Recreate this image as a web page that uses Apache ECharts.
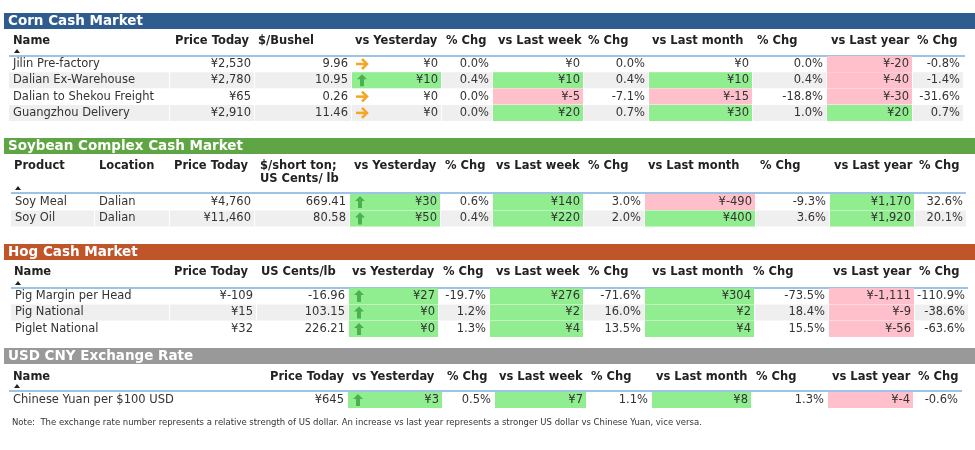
<!DOCTYPE html>
<html lang="en">
<head>
<meta charset="utf-8"/>
<title>China Cash Markets</title>
<script src="https://cdn.jsdelivr.net/npm/echarts@6/dist/echarts.min.js"></script>
<style>html,body{margin:0;padding:0;background:#fff}#main{width:975px;height:450px}</style>
</head>
<body>
<div id="main"></div>
<script>
// ---- data ----
const cornNames = ['Jilin Pre-factory', 'Dalian Ex-Warehouse', 'Dalian to Shekou Freight', 'Guangzhou Delivery'];
const cornPrice = [2530, 2780, 65, 2910];
const cornUnit = [9.96, 10.95, 0.26, 11.46];
const cornVsY = [0, 10, 0, 0];
const cornPctY = [0.0, 0.4, 0.0, 0.0];
const cornDirY = [0, 1, 0, 0];
const cornVsW = [0, 10, -5, 20];
const cornPctW = [0.0, 0.4, -7.1, 0.7];
const cornVsM = [0, 10, -15, 30];
const cornPctM = [0.0, 0.4, -18.8, 1.0];
const cornVsYr = [-20, -40, -30, 20];
const cornPctYr = [-0.8, -1.4, -31.6, 0.7];

const soyNames = ['Soy Meal', 'Soy Oil'];
const soyLoc = ['Dalian', 'Dalian'];
const soyPrice = [4760, 11460];
const soyUnit = [669.41, 80.58];
const soyVsY = [30, 50];
const soyPctY = [0.6, 0.4];
const soyDirY = [1, 1];
const soyVsW = [140, 220];
const soyPctW = [3.0, 2.0];
const soyVsM = [-490, 400];
const soyPctM = [-9.3, 3.6];
const soyVsYr = [1170, 1920];
const soyPctYr = [32.6, 20.1];

const hogNames = ['Pig Margin per Head', 'Pig National', 'Piglet National'];
const hogPrice = [-109, 15, 32];
const hogUnit = [-16.96, 103.15, 226.21];
const hogVsY = [27, 0, 0];
const hogPctY = [-19.7, 1.2, 1.3];
const hogDirY = [1, 1, 1];
const hogVsW = [276, 2, 4];
const hogPctW = [-71.6, 16.0, 13.5];
const hogVsM = [304, 2, 4];
const hogPctM = [-73.5, 18.4, 15.5];
const hogVsYr = [-1111, -9, -56];
const hogPctYr = [-110.9, -38.6, -63.6];

const fxNames = ['Chinese Yuan per $100 USD'];
const fxPrice = [645];
const fxVsY = [3];
const fxPctY = [0.5];
const fxDirY = [1];
const fxVsW = [7];
const fxPctW = [1.1];
const fxVsM = [8];
const fxPctM = [1.3];
const fxVsYr = [-4];
const fxPctYr = [-0.6];

const noteText = 'Note:  The exchange rate number represents a relative strength of US dollar. An increase vs last year represents a stronger US dollar vs Chinese Yuan, vice versa.';

// ---- helpers ----
const FONT = 'DejaVu Sans, Verdana, sans-serif';
const GREEN = '#90EE90', PINK = '#FFC0CB', STRIPE = '#EFEFEF';
const yuan = v => '\u00a5' + (v < 0 ? '-' : '') + Math.abs(v).toLocaleString('en-US');
const pct = v => v.toFixed(1) + '%';
const num = v => v.toFixed(2);
const els = [];

function txt(x, y, s, opt) {
  opt = opt || {};
  els.push({type: 'text', x: x, y: y, silent: true, style: {
    text: s, fill: opt.fill || '#333', align: opt.align || 'left', verticalAlign: 'middle',
    font: (opt.bold ? 'bold ' : '') + (opt.size || 11.5) + 'px ' + FONT }});
}
function rect(x, y, w, h, fill) {
  els.push({type: 'rect', silent: true, shape: {x: x, y: y, width: w, height: h}, style: {fill: fill}});
}
function upArrow(x, yc, color) {
  els.push({type: 'polygon', silent: true, shape: {points: [
    [x + 5, yc - 6], [x + 10, yc - 1], [x + 7, yc - 1], [x + 7, yc + 6], [x + 3, yc + 6], [x + 3, yc - 1], [x, yc - 1]]},
    style: {fill: color}});
}
function rightArrow(x, yc) {
  els.push({type: 'polyline', silent: true, shape: {points: [[x, yc], [x + 11, yc]]}, style: {stroke: '#F5A623', lineWidth: 2.5}});
  els.push({type: 'polyline', silent: true, shape: {points: [[x + 6, yc - 5], [x + 11, yc], [x + 6, yc + 5]]}, style: {stroke: '#F5A623', lineWidth: 2.5, fill: null}});
}

// section: title bar, header, rows. cols: {l, r, head, align, get, fill, arrow}
function section(sec) {
  rect(4, sec.titleY, 971, 16, sec.color);
  txt(8, sec.titleY + 8.5, sec.title, {bold: true, size: 13.5, fill: '#fff'});
  sec.cols.forEach(c => {
    (Array.isArray(c.head) ? c.head : [c.head]).forEach((h, k) =>
      txt(c.hx, sec.headY + k * 13, h, {bold: true, fill: '#222'}));
  });
  els.push({type: 'polygon', silent: true, shape: {points: [[sec.caretX, sec.lineY - 3], [sec.caretX + 6, sec.lineY - 3], [sec.caretX + 3, sec.lineY - 7]]}, style: {fill: '#222'}});
  rect(sec.x0, sec.lineY - 1, sec.x1 - sec.x0, 2, '#9DC3E6');
  for (let i = 0; i < sec.n; i++) {
    const yc = sec.rowY + i * sec.rowH;
    if (i % 2 === 1) sec.cols.forEach(c => rect(c.l, yc - 8, c.r - c.l - 1, 16, STRIPE));
    sec.cols.forEach(c => {
      const v = c.data ? c.data[i] : null;
      if (c.fillBy) {
        const d = c.fillBy(i);
        if (d !== 0) rect(c.l, yc - 8, c.r - c.l - 1, 16, d > 0 ? GREEN : PINK);
        if (c.arrow) { if (d > 0) upArrow(c.l + 5, yc, '#4CAF50'); else rightArrow(c.l + 4, yc); }
      }
      const s = c.fmt ? c.fmt(v) : v;
      if (c.align === 'right') txt(c.r - 4, yc, s, {align: 'right'});
      else txt(c.l + 4, yc, s);
    });
  }
}

const sign = arr => i => Math.sign(arr[i]);

section({
  title: 'Corn Cash Market', color: '#2F5C8F', titleY: 13, headY: 41, lineY: 56, caretX: 14,
  x0: 9, x1: 965, rowY: 64, rowH: 16.3, n: cornNames.length,
  cols: [
    {l: 9, r: 170, hx: 13, head: 'Name', data: cornNames},
    {l: 170, r: 255, hx: 175, head: 'Price Today', data: cornPrice, fmt: yuan, align: 'right'},
    {l: 255, r: 352, hx: 258, head: '$/Bushel', data: cornUnit, fmt: num, align: 'right'},
    {l: 352, r: 442, hx: 355, head: 'vs Yesterday', data: cornVsY, fmt: yuan, align: 'right', fillBy: i => cornDirY[i], arrow: true},
    {l: 442, r: 493, hx: 446, head: '% Chg', data: cornPctY, fmt: pct, align: 'right'},
    {l: 493, r: 584, hx: 498, head: 'vs Last week', data: cornVsW, fmt: yuan, align: 'right', fillBy: sign(cornVsW)},
    {l: 584, r: 649, hx: 588, head: '% Chg', data: cornPctW, fmt: pct, align: 'right'},
    {l: 649, r: 753, hx: 652, head: 'vs Last month', data: cornVsM, fmt: yuan, align: 'right', fillBy: sign(cornVsM)},
    {l: 753, r: 827, hx: 757, head: '% Chg', data: cornPctM, fmt: pct, align: 'right'},
    {l: 827, r: 913, hx: 831, head: 'vs Last year', data: cornVsYr, fmt: yuan, align: 'right', fillBy: sign(cornVsYr)},
    {l: 913, r: 964, hx: 917, head: '% Chg', data: cornPctYr, fmt: pct, align: 'right'}
  ]
});

section({
  title: 'Soybean Complex Cash Market', color: '#5FA544', titleY: 138, headY: 166, lineY: 193, caretX: 15,
  x0: 11, x1: 966, rowY: 202, rowH: 16.5, n: soyNames.length,
  cols: [
    {l: 11, r: 95, hx: 14, head: 'Product', data: soyNames},
    {l: 95, r: 170, hx: 99, head: 'Location', data: soyLoc},
    {l: 170, r: 255, hx: 174, head: 'Price Today', data: soyPrice, fmt: yuan, align: 'right'},
    {l: 255, r: 350, hx: 260, head: ['$/short ton;', 'US Cents/ lb'], data: soyUnit, fmt: num, align: 'right'},
    {l: 350, r: 441, hx: 354, head: 'vs Yesterday', data: soyVsY, fmt: yuan, align: 'right', fillBy: i => soyDirY[i], arrow: true},
    {l: 441, r: 493, hx: 445, head: '% Chg', data: soyPctY, fmt: pct, align: 'right'},
    {l: 493, r: 584, hx: 496, head: 'vs Last week', data: soyVsW, fmt: yuan, align: 'right', fillBy: sign(soyVsW)},
    {l: 584, r: 645, hx: 588, head: '% Chg', data: soyPctW, fmt: pct, align: 'right'},
    {l: 645, r: 756, hx: 648, head: 'vs Last month', data: soyVsM, fmt: yuan, align: 'right', fillBy: sign(soyVsM)},
    {l: 756, r: 830, hx: 760, head: '% Chg', data: soyPctM, fmt: pct, align: 'right'},
    {l: 830, r: 915, hx: 834, head: 'vs Last year', data: soyVsYr, fmt: yuan, align: 'right', fillBy: sign(soyVsYr)},
    {l: 915, r: 967, hx: 919, head: '% Chg', data: soyPctYr, fmt: pct, align: 'right'}
  ]
});

section({
  title: 'Hog Cash Market', color: '#C0552A', titleY: 244, headY: 272, lineY: 288, caretX: 15,
  x0: 11, x1: 968, rowY: 296, rowH: 16.5, n: hogNames.length,
  cols: [
    {l: 11, r: 170, hx: 14, head: 'Name', data: hogNames},
    {l: 170, r: 257, hx: 174, head: 'Price Today', data: hogPrice, fmt: yuan, align: 'right'},
    {l: 257, r: 349, hx: 261, head: 'US Cents/lb', data: hogUnit, fmt: num, align: 'right'},
    {l: 349, r: 439, hx: 352, head: 'vs Yesterday', data: hogVsY, fmt: yuan, align: 'right', fillBy: i => hogDirY[i], arrow: true},
    {l: 439, r: 490, hx: 443, head: '% Chg', data: hogPctY, fmt: pct, align: 'right'},
    {l: 490, r: 584, hx: 496, head: 'vs Last week', data: hogVsW, fmt: yuan, align: 'right', fillBy: sign(hogVsW)},
    {l: 584, r: 645, hx: 588, head: '% Chg', data: hogPctW, fmt: pct, align: 'right'},
    {l: 645, r: 755, hx: 652, head: 'vs Last month', data: hogVsM, fmt: yuan, align: 'right', fillBy: sign(hogVsM)},
    {l: 755, r: 829, hx: 753, head: '% Chg', data: hogPctM, fmt: pct, align: 'right'},
    {l: 829, r: 915, hx: 833, head: 'vs Last year', data: hogVsYr, fmt: yuan, align: 'right', fillBy: sign(hogVsYr)},
    {l: 915, r: 969, hx: 919, head: '% Chg', data: hogPctYr, fmt: pct, align: 'right'}
  ]
});

section({
  title: 'USD CNY Exchange Rate', color: '#999999', titleY: 348, headY: 377, lineY: 391, caretX: 14,
  x0: 9, x1: 962, rowY: 400, rowH: 16.5, n: fxNames.length,
  cols: [
    {l: 9, r: 265, hx: 13, head: 'Name', data: fxNames},
    {l: 265, r: 348, hx: 270, head: 'Price Today', data: fxPrice, fmt: yuan, align: 'right'},
    {l: 348, r: 443, hx: 352, head: 'vs Yesterday', data: fxVsY, fmt: yuan, align: 'right', fillBy: i => fxDirY[i], arrow: true},
    {l: 443, r: 495, hx: 447, head: '% Chg', data: fxPctY, fmt: pct, align: 'right'},
    {l: 495, r: 587, hx: 499, head: 'vs Last week', data: fxVsW, fmt: yuan, align: 'right', fillBy: sign(fxVsW)},
    {l: 587, r: 652, hx: 591, head: '% Chg', data: fxPctW, fmt: pct, align: 'right'},
    {l: 652, r: 752, hx: 656, head: 'vs Last month', data: fxVsM, fmt: yuan, align: 'right', fillBy: sign(fxVsM)},
    {l: 752, r: 828, hx: 756, head: '% Chg', data: fxPctM, fmt: pct, align: 'right'},
    {l: 828, r: 914, hx: 832, head: 'vs Last year', data: fxVsYr, fmt: yuan, align: 'right', fillBy: sign(fxVsYr)},
    {l: 914, r: 962, hx: 918, head: '% Chg', data: fxPctYr, fmt: pct, align: 'right'}
  ]
});

txt(12, 423, noteText, {size: 8.5, fill: '#333'});

const chart = echarts.init(document.getElementById('main'), null, {renderer: 'canvas'});
chart.setOption({animation: false, graphic: {elements: els}});
</script>
</body>
</html>
